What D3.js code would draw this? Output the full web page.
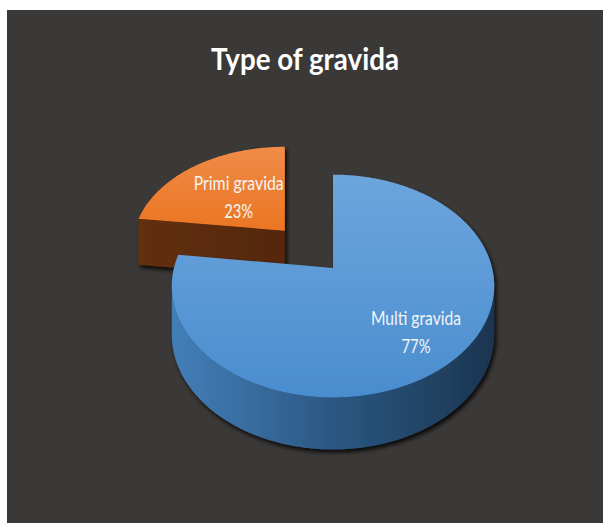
<!DOCTYPE html>
<html>
<head>
<meta charset="utf-8">
<script src="https://cdn.jsdelivr.net/npm/d3@7"></script>
<style>
  html, body { margin: 0; padding: 0; background: #ffffff; }
  svg { display: block; }
</style>
</head>
<body>
<svg id="chart" width="605" height="523"></svg>
<script>
// Data
const categories = ["Multi gravida", "Primi gravida"];
const values = [77, 23];
const percentLabels = ["77%", "23%"];
const explodeBy = [0, 0.485];          // radial offset of each slice (in radii)

const title = "Type of gravida";

// Colours
const topColors  = [["#6da5dd", "#4a8dcf"], ["#f08c48", "#ea7522"]];
const sideColors = [["#437eb7", "#2b5782", "#1b344f"], ["#62300e", "#5b2b0b", "#552709"]];

const svg = d3.select("#chart");

// Panel background
svg.append("rect")
  .attr("x", 7).attr("y", 10)
  .attr("width", 596).attr("height", 513)
  .attr("fill", "#3b3937");

const defs = svg.append("defs");

const shadow = defs.append("filter")
  .attr("id", "shadow")
  .attr("x", "-20%").attr("y", "-20%")
  .attr("width", "140%").attr("height", "140%");
shadow.append("feDropShadow")
  .attr("dx", 2).attr("dy", 3)
  .attr("stdDeviation", 2.2)
  .attr("flood-color", "#000")
  .attr("flood-opacity", 0.85);

// Tilted pie: perspective on the pie plane, straight vertical extrusion
const cx = 333, cy = 268;          // screen position of the pie centre
const tilt = 43 * Math.PI / 180;
const sinT = Math.sin(tilt), cosT = Math.cos(tilt);
const D = 4.52;                    // camera distance (in radii)
const f = 719;                     // focal length (pixels)
const frontThick = 52;             // side height at the nearest rim point (px)
const distFront = D - cosT;

function dist0(Y) { return D + Y * cosT; }
// s: slice (its own vertex anchors the horizontal projection)
function proj(s, X, Y, bottom) {
  const d = dist0(Y);
  const x = s.ax + f * (X - s.ox) / d;
  let y = cy - f * Y * sinT / d;
  if (bottom) y += frontThick * Math.sqrt(distFront / d);
  return [x, y];
}

const pie = d3.pie().sort(null).startAngle(0).endAngle(2 * Math.PI);
const arcs = pie(values);
const line = d3.line();

// Gradients
categories.forEach((c, i) => {
  const gTop = defs.append("linearGradient")
    .attr("id", "top" + i).attr("gradientUnits", "userSpaceOnUse")
    .attr("x1", 0).attr("y1", i === 0 ? 175 : 145)
    .attr("x2", 0).attr("y2", i === 0 ? 397 : 232);
  gTop.append("stop").attr("offset", 0).attr("stop-color", topColors[i][0]);
  gTop.append("stop").attr("offset", 1).attr("stop-color", topColors[i][1]);

  const gSide = defs.append("linearGradient")
    .attr("id", "side" + i).attr("gradientUnits", "userSpaceOnUse")
    .attr("x1", i === 0 ? 175 : 138).attr("y1", 0)
    .attr("x2", i === 0 ? 497 : 288).attr("y2", 0);
  gSide.append("stop").attr("offset", 0).attr("stop-color", sideColors[i][0]);
  gSide.append("stop").attr("offset", 0.5).attr("stop-color", sideColors[i][1]);
  gSide.append("stop").attr("offset", 1).attr("stop-color", sideColors[i][2]);
});

// Slice geometry
const slices = arcs.map((a, i) => {
  const mid = (a.startAngle + a.endAngle) / 2;
  const ox = explodeBy[i] * Math.sin(mid);
  const oy = explodeBy[i] * Math.cos(mid);
  const ax = cx + f * ox / dist0(oy);
  return { a, i, mid, ox, oy, ax };
});

// Far slices first
const order = slices.slice().sort((s, t) => t.oy - s.oy);
const step = Math.PI / 360;
const pieLayer = svg.append("g");

order.forEach(s => {
  const { a, i, ox, oy } = s;
  const g = pieLayer.append("g").attr("filter", "url(#shadow)");
  const rimTop = t => proj(s, ox + Math.sin(t), oy + Math.cos(t), false);
  const rimBot = t => proj(s, ox + Math.sin(t), oy + Math.cos(t), true);

  const angs = [];
  for (let t = a.startAngle; t < a.endAngle; t += step) angs.push(t);
  angs.push(a.endAngle);

  // Radial faces that face the viewer (outward normal pointing toward -Y)
  [
    { t: a.startAngle, ny:  Math.sin(a.startAngle) },
    { t: a.endAngle,   ny: -Math.sin(a.endAngle) }
  ].forEach(r => {
    if (r.ny >= -1e-6 || Math.abs(Math.sin(r.t)) < 1e-6) return;
    const pts = [
      proj(s, ox, oy, false), rimTop(r.t),
      rimBot(r.t), proj(s, ox, oy, true)
    ];
    g.append("path").attr("d", line(pts) + "Z").attr("fill", "url(#side" + i + ")");
  });

  // Outer side: visible where the rim runs right-to-left on screen (front arc)
  let run = [];
  const flush = () => {
    if (run.length > 1) {
      const pts = run.map(rimTop).concat(run.slice().reverse().map(rimBot));
      g.append("path").attr("d", line(pts) + "Z").attr("fill", "url(#side" + i + ")");
    }
    run = [];
  };
  angs.forEach((t, k) => {
    const t2 = k < angs.length - 1 ? angs[k + 1] : t + step;
    const t1 = k < angs.length - 1 ? t : t - step;
    const front = rimTop(t2)[0] < rimTop(t1)[0];
    if (front) run.push(t); else flush();
  });
  flush();

  // Top face
  const topPts = [proj(s, ox, oy, false)].concat(angs.map(rimTop));
  g.append("path").attr("d", line(topPts) + "Z").attr("fill", "url(#top" + i + ")");
});

// Data labels
const labelR = [0.72, 0.49];
const labels = svg.append("g")
  .attr("font-family", "Lato, 'Open Sans', sans-serif")
  .attr("font-size", 19.5)
  .attr("fill", "#f4f4f4")
  .attr("text-anchor", "middle");

slices.forEach(s => {
  const r = labelR[s.i];
  const p = proj(s, s.ox + r * Math.sin(s.mid), s.oy + r * Math.cos(s.mid), false);
  labels.append("text")
    .attr("x", p[0]).attr("y", p[1] - 7)
    .attr("textLength", 90).attr("lengthAdjust", "spacingAndGlyphs")
    .text(categories[s.i]);
  labels.append("text")
    .attr("x", p[0]).attr("y", p[1] + 21)
    .attr("textLength", 29).attr("lengthAdjust", "spacingAndGlyphs")
    .text(percentLabels[s.i]);
});

// Title
svg.append("text")
  .attr("x", 305).attr("y", 69.5)
  .attr("text-anchor", "middle")
  .attr("font-family", "Lato, 'Open Sans', sans-serif")
  .attr("font-weight", 700)
  .attr("font-size", 31)
  .attr("fill", "#ffffff")
  .attr("textLength", 188).attr("lengthAdjust", "spacingAndGlyphs")
  .text(title);
</script>
</body>
</html>
